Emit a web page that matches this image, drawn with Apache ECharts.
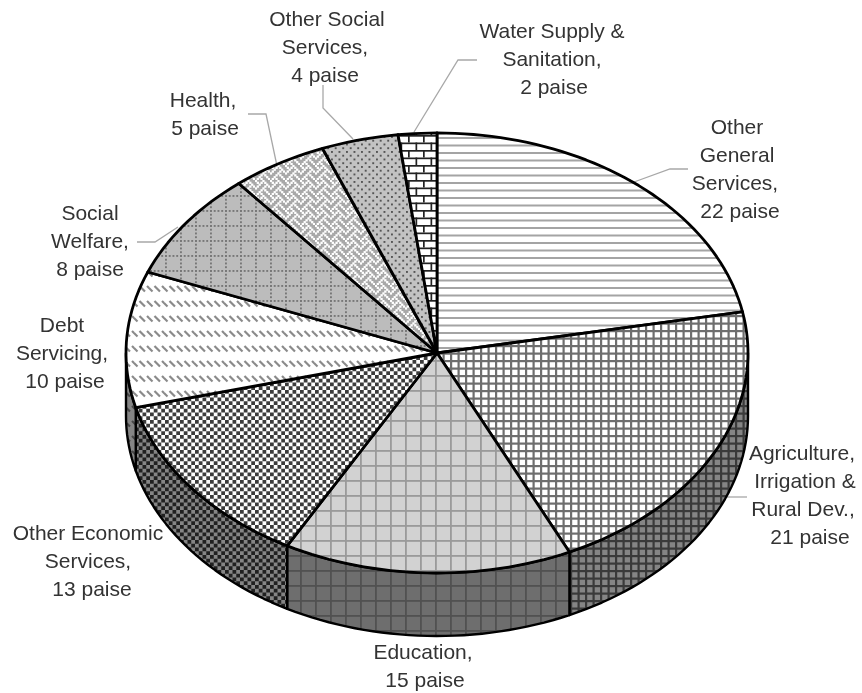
<!DOCTYPE html>
<html><head><meta charset="utf-8">
<style>html,body{margin:0;padding:0;background:#fff}#c{width:862px;height:693px}</style>
<script src="https://cdn.jsdelivr.net/npm/echarts@6/dist/echarts.min.js"></script>
</head><body><div id="c"></div>
<script>
// ---- data ----
const categories = [
  ['Other','General','Services,'],
  ['Agriculture,','Irrigation &','Rural Dev.,'],
  ['Education,'],
  ['Other Economic','Services,'],
  ['Debt','Servicing,'],
  ['Social','Welfare,'],
  ['Health,'],
  ['Other Social','Services,'],
  ['Water Supply &','Sanitation,']
];
const values = [22, 21, 15, 13, 10, 8, 5, 4, 2];
const unit = 'paise';

// ---- layout ----
const cx = 437, cy = 353, rx = 311, ry = 220, depthPx = 63;
const labelX = [
  [737,737,735,740],[802,805,803,810],[423,425],[88,88,92],[62,62,65],[90,90,90],[203,205],[327,325,325],[552,552,554]
];
const labelY = [128,454,653,534,326,214,101,20,32];
const linePitch = 28;
const leaders = [
  [[688,169],[670,169],[634,182]],
  [[747,497],[727,497]],
  [[137,242],[155,242],[178,227]],
  [[248,114],[266,114],[277,166]],
  [[323,85],[323,108],[353,139]],
  [[477,60],[458,60],[414,132]]
];

// ---- hatch tiles (15px = eight pattern bits) ----
function tile(draw, dark) {
  const c = document.createElement('canvas');
  c.width = 15; c.height = 15;
  const g = c.getContext('2d');
  draw(g, 15, 15);
  if (dark) {
    g.globalCompositeOperation = 'multiply';
    g.fillStyle = '#858585';
    g.fillRect(0, 0, 15, 15);
  }
  return { image: c, repeat: 'repeat' };
}
const bg = (g, w, h, col) => { g.fillStyle = col; g.fillRect(0, 0, w, h); };
const weaveBits = [0x88,0x54,0x22,0x45,0x88,0x14,0x22,0x51];
const painters = [
  (g,w,h) => { bg(g,w,h,'#fff'); g.fillStyle='#a4a4a4'; g.fillRect(0,2,w,2); g.fillRect(0,9.5,w,2); },
  (g,w,h) => { bg(g,w,h,'#fff'); g.fillStyle='#6e6e6e';
    [0,7.5].forEach(p => { g.fillRect(p,0,2.2,h); g.fillRect(0,p,w,2.2); }); },
  (g,w,h) => { bg(g,w,h,'#d2d2d2'); g.fillStyle='#9a9a9a'; g.fillRect(0,0,1.8,h); g.fillRect(0,0,w,1.8); },
  (g,w,h) => { bg(g,w,h,'#fff'); g.fillStyle='#3c3c3c';
    [[0,0],[7.5,0],[3.75,3.75],[11.25,3.75],[0,7.5],[7.5,7.5],[3.75,11.25],[11.25,11.25]].forEach(p => g.fillRect(p[0],p[1],3.75,3.75)); },
  (g,w,h) => { bg(g,w,h,'#fff'); g.strokeStyle='#8a8a8a'; g.lineWidth=2.2;
    [-3,4.5,12].forEach(x => { g.beginPath(); g.moveTo(x,1); g.lineTo(x+5.5,6.5); g.stroke(); }); },
  (g,w,h) => { bg(g,w,h,'#bcbcbc'); g.fillStyle='#777';
    for (let i=0;i<4;i++){ g.fillRect(i*3.75,0,1.9,1.9); g.fillRect(0,i*3.75,1.9,1.9);} },
  (g,w,h) => { bg(g,w,h,'#a8a8a8'); g.fillStyle='#fff';
    weaveBits.forEach((b,r) => { for (let k=0;k<8;k++) if (b & (0x80>>k)) g.fillRect(k*1.875-0.2,r*1.875-0.2,2.3,2.3); }); },
  (g,w,h) => { bg(g,w,h,'#c2c2c2'); g.fillStyle='#555';
    [[1,1],[8.5,1],[4.75,4.75],[12.25,4.75],[1,8.5],[8.5,8.5],[4.75,12.25],[12.25,12.25]].forEach(p => g.fillRect(p[0],p[1],1.9,1.9)); },
  (g,w,h) => { bg(g,w,h,'#fff'); g.fillStyle='#222';
    g.fillRect(0,0,w,1.7); g.fillRect(0,7.5,w,1.7); g.fillRect(3,0,1.7,7.5); g.fillRect(10.5,7.5,1.7,7.5); }
];
const topFill = painters.map(p => tile(p,false));
const wallFill = painters.map(p => tile(p,true));

// ---- geometry through hidden value axes (unit ellipse) ----
const total = values.reduce((a,b)=>a+b,0);
const starts = values.map((_,i)=>values.slice(0,i).reduce((a,b)=>a+b,0));
const rim = (a0,a1,dy) => {
  const pts=[], n=Math.max(2,Math.ceil((a1-a0)/0.03));
  for (let k=0;k<=n;k++){ const a=a0+(a1-a0)*k/n; pts.push([Math.sin(a),Math.cos(a)-dy]); }
  return pts;
};
const TAU = Math.PI*2, dyUnit = depthPx/ry;
const blackEdge = { stroke:'#000', lineWidth:2.8, lineJoin:'round' };

function renderTop(params, api){
  const i = api.value(0), v = api.value(1);
  const a0 = starts[i]/total*TAU, a1 = (starts[i]+v)/total*TAU;
  const pts = [[0,0]].concat(rim(a0,a1,0)).map(p=>api.coord(p));
  return { type:'polygon', shape:{points:pts}, style:Object.assign({fill:topFill[i]},blackEdge) };
}
function renderWall(params, api){
  const i = api.value(0), v = api.value(1);
  const a0 = Math.max(starts[i]/total*TAU, TAU/4), a1 = Math.min((starts[i]+v)/total*TAU, TAU*3/4);
  if (a1 <= a0) return null;
  const pts = rim(a0,a1,0).concat(rim(a0,a1,dyUnit).reverse()).map(p=>api.coord(p));
  return { type:'polygon', shape:{points:pts}, style:Object.assign({fill:wallFill[i]},blackEdge,{lineWidth:2.4}) };
}

// ---- texts and leader lines ----
const graphics = [];
leaders.forEach(l => graphics.push({ type:'polyline', silent:true, shape:{points:l}, style:{stroke:'#a8a8a8',lineWidth:1.3,fill:null} }));
categories.forEach((lines,i) => {
  lines.concat(values[i]+' '+unit).forEach((t,j) => graphics.push({
    type:'text', silent:true, x:labelX[i][j], y:labelY[i]+j*linePitch,
    style:{ text:t, align:'center', verticalAlign:'middle', fill:'#333', font:'21px "Liberation Sans", Arial, sans-serif' }
  }));
});

const data = values.map((v,i)=>[i,v]);
const chart = echarts.init(document.getElementById('c'), null, {renderer:'canvas'});
chart.setOption({
  animation:false,
  backgroundColor:'#fff',
  grid:{ left:cx-rx, width:2*rx, top:cy-ry, height:2*ry },
  xAxis:{ type:'value', min:-1, max:1, show:false },
  yAxis:{ type:'value', min:-1, max:1, show:false },
  series:[
    { type:'custom', name:'wall', clip:false, silent:true, z:2, data, renderItem:renderWall },
    { type:'custom', name:'top', clip:false, silent:true, z:3, data, renderItem:renderTop }
  ],
  graphic:graphics
});
</script></body></html>
